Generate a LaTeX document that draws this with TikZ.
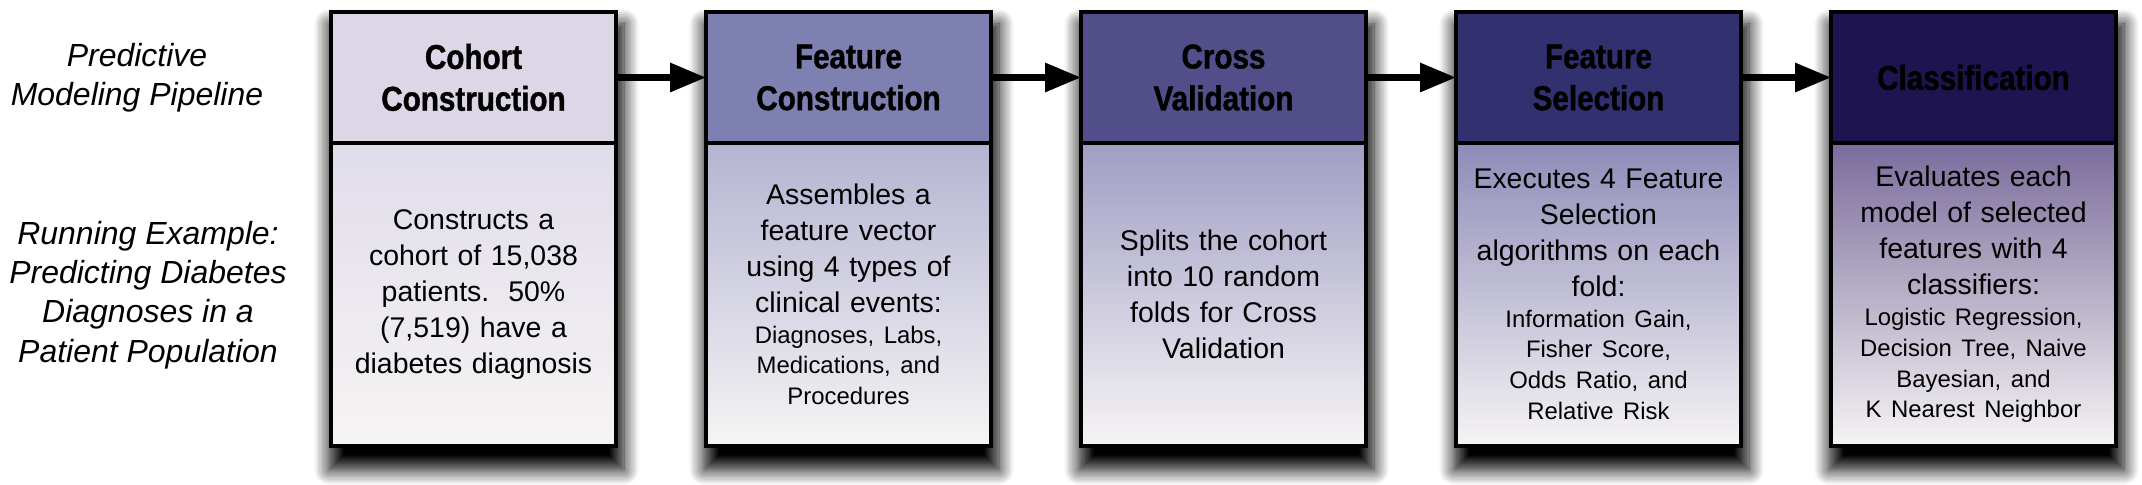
\documentclass[tikz,border=0pt]{standalone}
\usepackage{fontspec}
\setmainfont{Liberation Sans}
\newfontfamily\headfont{Liberation Sans}[FakeStretch=0.86, FakeBold=1.2]
\usepackage{tikz}
\usetikzlibrary{positioning, arrows.meta, shadows.blur, backgrounds}

\definecolor{headA}{RGB}{220,214,230}
\definecolor{headB}{RGB}{127,128,178}
\definecolor{headC}{RGB}{82,78,137}
\definecolor{headD}{RGB}{51,48,112}
\definecolor{headE}{RGB}{30,20,80}
\definecolor{bodyA}{RGB}{224,220,234}
\definecolor{bodyB}{RGB}{180,180,210}
\definecolor{bodyC}{RGB}{160,158,196}
\definecolor{bodyD}{RGB}{142,140,184}
\definecolor{bodyE}{RGB}{122,108,155}
\definecolor{bodyEnd}{RGB}{246,244,244}

\newcommand{\detail}[1]{\par{\fontsize{6.8}{8.8}\selectfont #1\par}}

\tikzset{
  stagehead/.style={draw, line width=1.2pt, fill=#1, minimum width=2.85cm, minimum height=1.31cm,
    inner sep=0pt, outer sep=0pt, text width=2.8cm, align=center,
    font=\headfont\bfseries\fontsize{9.8}{11.9}\selectfont},
  stagebody/.style={draw, line width=1.2pt, top color=#1, bottom color=bodyEnd, minimum width=2.85cm,
    minimum height=3.03cm, inner sep=0pt, outer sep=0pt, text width=2.8cm, align=center,
    font=\fontsize{8.1}{10.2}\selectfont},
  sidenote/.style={align=center, font=\itshape\fontsize{9.1}{11.2}\selectfont},
}

\begin{document}
\begin{tikzpicture}[>={Triangle[length=0.36cm,width=0.28cm]}, flow/.style={->, line width=1.8pt}]
    \useasboundingbox (0,0) rectangle (21.42,4.85);
    % headers
    \node[stagehead=headA] (h1) at (4.735,4.075) {Cohort\\ Construction};
    \node[stagehead=headB, right=0.9cm of h1] (h2) {Feature\\ Construction};
    \node[stagehead=headC, right=0.9cm of h2] (h3) {Cross\\ Validation};
    \node[stagehead=headD, right=0.9cm of h3] (h4) {Feature\\ Selection};
    \node[stagehead=headE, right=0.9cm of h4] (h5) {Classification};
    % bodies
    \node[stagebody=bodyA, below=0pt of h1] (b1) {Constructs a\\ cohort of 15,038\\ patients.\ \ 50\%\\ (7,519) have a\\ diabetes diagnosis};
    \node[stagebody=bodyB, below=0pt of h2] (b2) {Assembles a\\ feature vector\\ using 4 types of\\ clinical events:
        \detail{Diagnoses, Labs,\\ Medications, and\\ Procedures}};
    \node[stagebody=bodyC, below=0pt of h3] (b3) {Splits the cohort\\ into 10 random\\ folds for Cross\\ Validation};
    \node[stagebody=bodyD, below=0pt of h4] (b4) {Executes 4 Feature\\ Selection\\ algorithms on each\\ fold:
        \detail{Information Gain,\\ Fisher Score,\\ Odds Ratio, and\\ Relative Risk}};
    \node[stagebody=bodyE, below=0pt of h5] (b5) {Evaluates each\\ model of selected\\ features with 4\\ classifiers:
        \detail{Logistic Regression,\\ Decision Tree, Naive\\ Bayesian, and\\ K Nearest Neighbor}};

    % left labels
    \node[sidenote] (pipe) at (1.37,4.075) {Predictive\\ Modeling Pipeline};
    \node[sidenote] (example) at (1.48,1.9) {Running Example:\\ Predicting Diabetes\\ Diagnoses in a\\ Patient Population};

    % shadows
    \begin{scope}[on background layer]
    \foreach \i in {1,...,5}
        \path[blur shadow={shadow xshift=0.02cm, shadow yshift=-0.12cm, shadow blur radius=0.15cm,
                shadow blur steps=12, shadow opacity=100}]
            ([xshift=-0.04cm]h\i.north west) rectangle ([xshift=0.06cm, yshift=-0.12cm]b\i.south east);
    \end{scope}

    \draw[flow] (h1) -- (h2);
    \draw[flow] (h2) -- (h3);
    \draw[flow] (h3) -- (h4);
    \draw[flow] (h4) -- (h5);
\end{tikzpicture}
\end{document}
